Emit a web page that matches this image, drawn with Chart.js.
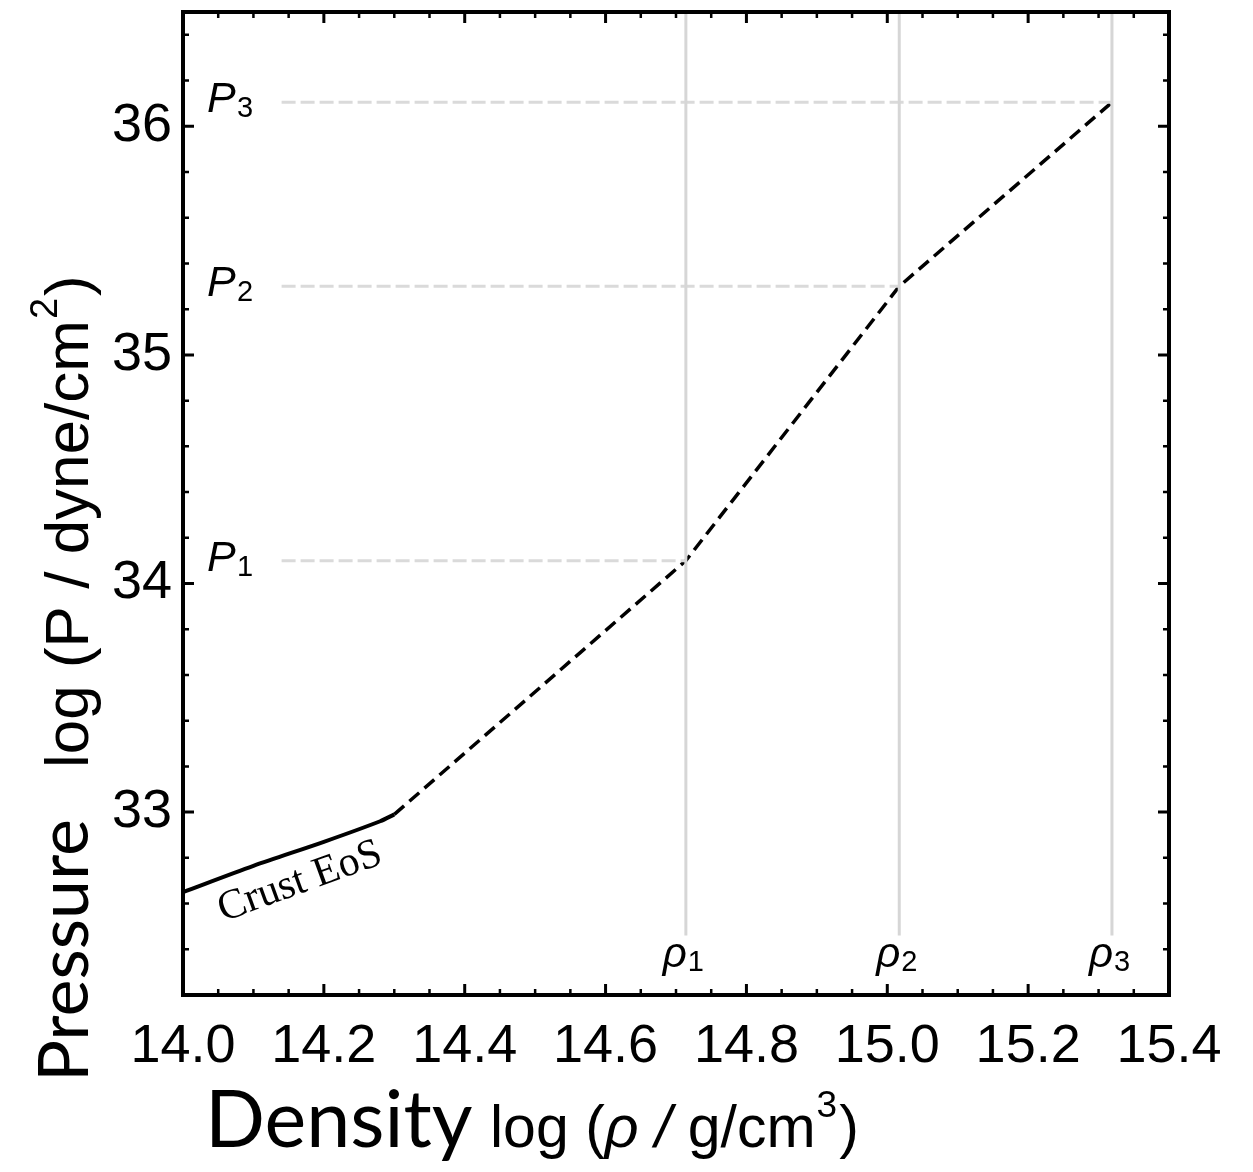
<!DOCTYPE html>
<html>
<head>
<meta charset="utf-8">
<script src="https://cdn.jsdelivr.net/npm/chart.js@4.4.1/dist/chart.umd.min.js"></script>
<style>
body { margin: 0; background: #fff; }
#wrap { width: 1253px; height: 1172px; }
</style>
</head>
<body>
<div id="wrap"><canvas id="eos" width="1253" height="1172"></canvas></div>
<script>
// values
const xTicks = [14.0, 14.2, 14.4, 14.6, 14.8, 15.0, 15.2, 15.4];
const yTicks = [33, 34, 35, 36];
const rhoX = [14.714, 15.017, 15.319];
const pY = [34.10, 35.30, 36.105];
const crustX = [14.0, 14.1, 14.2, 14.28, 14.3];
const crustY = [32.65, 32.765, 32.87, 32.96, 32.99];
const coreX = [14.3, 14.714, 15.017, 15.319];
const coreY = [32.99, 34.10, 35.30, 36.105];
const guideStartX = 14.14;
const guideBottomY = 32.46;
const xMin = 14.0, xMax = 15.4, yMin = 32.2, yMax = 36.5;

const datasets = [];
for (let i = 0; i < rhoX.length; i++) {
    datasets.push({
	data: [{x: rhoX[i], y: guideBottomY}, {x: rhoX[i], y: yMax}],
	borderColor: '#d6d6d6', borderWidth: 3
    });
    datasets.push({
	data: [{x: guideStartX, y: pY[i]}, {x: rhoX[i], y: pY[i]}],
	borderColor: '#dadada', borderWidth: 3, borderDash: [14, 5]
    });
}
datasets.push({
    data: crustX.map((x, i) => ({x: x, y: crustY[i]})),
    borderColor: '#000', borderWidth: 4, tension: 0.3
});
datasets.push({
    data: coreX.map((x, i) => ({x: x, y: coreY[i]})),
    borderColor: '#000', borderWidth: 3.5, borderDash: [13, 7]
});
datasets.forEach(d => { d.showLine = true; d.pointRadius = 0; d.fill = false; });

const sansFont = "'Liberation Sans', Arial, sans-serif";

// draws a run of [text, font, dy] pieces one after another
function drawRun(ctx, parts, x, y) {
    let cx = x;
    parts.forEach(p => {
	ctx.font = p[1];
	ctx.fillText(p[0], cx, y + (p[2] || 0));
	cx += ctx.measureText(p[0]).width + (p[3] || 0);
    });
}

const framePlugin = {
    id: 'frame',
    afterDatasetsDraw(chart) {
	const ctx = chart.ctx;
	const a = chart.chartArea;
	const xs = chart.scales.x, ys = chart.scales.y;
	ctx.save();
	ctx.strokeStyle = '#000';
	// minor / major ticks on all four sides, pointing inwards
	for (let k = 0; k <= 28; k++) {
	    const v = xMin + k * 0.05;
	    const px = xs.getPixelForValue(v);
	    const len = (k % 4 === 0) ? 11 : 6;
	    ctx.lineWidth = (k % 4 === 0) ? 3 : 2.5;
	    ctx.beginPath();
	    ctx.moveTo(px, a.bottom); ctx.lineTo(px, a.bottom - len);
	    ctx.moveTo(px, a.top); ctx.lineTo(px, a.top + len);
	    ctx.stroke();
	}
	for (let k = 0; k <= 21; k++) {
	    const v = yMin + k * 0.2;
	    const py = ys.getPixelForValue(v);
	    const major = Math.abs(v - Math.round(v)) < 1e-6;
	    const len = major ? 11 : 6;
	    ctx.lineWidth = major ? 3 : 2.5;
	    ctx.beginPath();
	    ctx.moveTo(a.left, py); ctx.lineTo(a.left + len, py);
	    ctx.moveTo(a.right, py); ctx.lineTo(a.right - len, py);
	    ctx.stroke();
	}
	ctx.lineWidth = 4;
	ctx.strokeRect(a.left, a.top, a.right - a.left, a.bottom - a.top);
	ctx.restore();
    },
    afterDraw(chart) {
	const ctx = chart.ctx;
	const a = chart.chartArea;
	const xs = chart.scales.x, ys = chart.scales.y;
	ctx.save();
	ctx.fillStyle = '#000';
	ctx.textBaseline = 'alphabetic';
	// P_i labels
	for (let i = 0; i < pY.length; i++) {
	    const py = ys.getPixelForValue(pY[i]) + 10;
	    ctx.font = "italic 43px " + sansFont;
	    ctx.fillText('P', a.left + 24, py);
	    ctx.font = "29px " + sansFont;
	    ctx.fillText(String(i + 1), a.left + 54, py + 5);
	}
	// rho_i labels
	for (let i = 0; i < rhoX.length; i++) {
	    const px = xs.getPixelForValue(rhoX[i]);
	    ctx.font = "italic 42px " + sansFont;
	    ctx.fillText('\u03C1', px - 23, a.bottom - 28);
	    ctx.font = "29px " + sansFont;
	    ctx.fillText(String(i + 1), px + 2, a.bottom - 24);
	}
	// Crust EoS
	ctx.save();
	ctx.translate(300, 882);
	ctx.rotate(-20 * Math.PI / 180);
	ctx.font = "42px 'Liberation Serif', 'Times New Roman', serif";
	ctx.textAlign = 'center';
	ctx.textBaseline = 'middle';
	ctx.fillText('Crust EoS', 0, 0);
	ctx.restore();
	// x title
	ctx.font = "79px Lato, sans-serif";
	ctx.fillText('Density', 205, 1147);
	drawRun(ctx, [
	    ['log (', "59px " + sansFont],
	    ['\u03C1 /', "italic 59px " + sansFont],
	    [' g/cm', "59px " + sansFont, 0, 1],
	    ['3', "37px " + sansFont, -30, 2],
	    [')', "59px " + sansFont]
	], 490, 1147);
	// y title
	ctx.save();
	ctx.translate(88, 1082);
	ctx.rotate(-Math.PI / 2);
	ctx.font = "70px Lato, sans-serif";
	ctx.fillText('Pressure', 0, 0);
	drawRun(ctx, [
	    ['log (P / dyne/cm', "62px " + sansFont, 0, 1],
	    ['2', "38px " + sansFont, -31, 2],
	    [')', "62px " + sansFont]
	], 314, 0);
	ctx.restore();
	ctx.restore();
    }
};

new Chart(document.getElementById('eos'), {
    type: 'scatter',
    data: { datasets: datasets },
    options: {
	responsive: false,
	devicePixelRatio: 1,
	animation: false,
	layout: { padding: { left: 0, top: 12, right: 84, bottom: 0 } },
	plugins: { legend: { display: false }, tooltip: { enabled: false } },
	scales: {
	    x: {
		type: 'linear', min: xMin, max: xMax,
		afterBuildTicks: s => { s.ticks = xTicks.map(v => ({value: v})); },
		afterFit: s => { s.height = 177; s.paddingLeft = 0; s.paddingRight = 0; },
		grid: { display: false, drawTicks: false },
		border: { display: false },
		ticks: {
		    padding: 20, color: '#000', maxRotation: 0, autoSkip: false,
		    font: { family: sansFont, size: 54 },
		    callback: v => Number(v).toFixed(1)
		}
	    },
	    y: {
		type: 'linear', min: yMin, max: yMax,
		afterBuildTicks: s => { s.ticks = yTicks.map(v => ({value: v})); },
		afterFit: s => { s.width = 183; s.paddingTop = 0; s.paddingBottom = 0; },
		grid: { display: false, drawTicks: false },
		border: { display: false },
		ticks: {
		    padding: 11, color: '#000', autoSkip: false,
		    font: { family: sansFont, size: 54 },
		    callback: v => String(v)
		}
	    }
	}
    },
    plugins: [framePlugin]
});
</script>
</body>
</html>
